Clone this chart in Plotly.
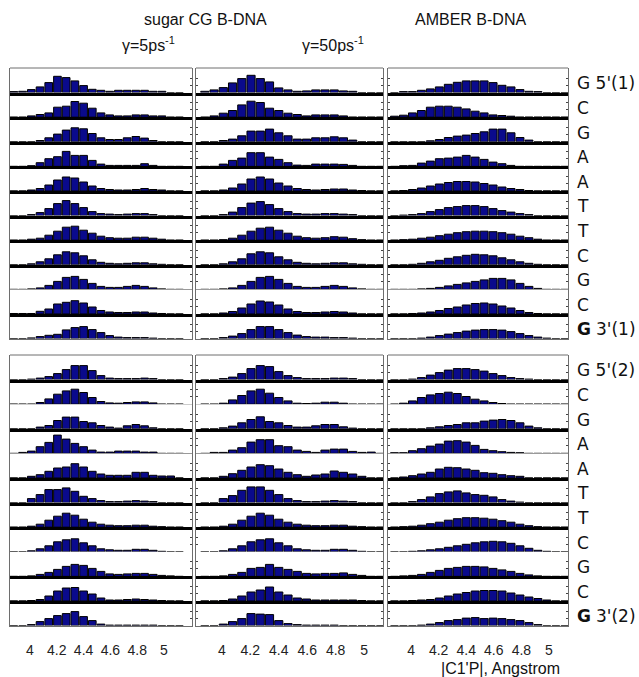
import plotly.graph_objects as go

# bin centres (Angstrom) shared by all histograms
BINS = [3.880, 3.945, 4.010, 4.075, 4.140, 4.205, 4.270, 4.335, 4.400, 4.465,
        4.530, 4.595, 4.660, 4.725, 4.790, 4.855, 4.920, 4.985, 5.050, 5.115]

# row labels: (bold part, normal part)
ROW_LABELS = [("", "G 5'(1)"), ("", "C"), ("", "G"), ("", "A"), ("", "A"), ("", "T"),
              ("", "T"), ("", "C"), ("", "G"), ("", "C"), ("G", "3'(1)"),
              ("", "G 5'(2)"), ("", "C"), ("", "G"), ("", "A"), ("", "A"), ("", "T"),
              ("", "T"), ("", "C"), ("", "G"), ("", "C"), ("G", "3'(2)")]

TICK_VALS = [4.0, 4.2, 4.4, 4.6, 4.8, 5.0]
TICK_TEXT = ["4", "4.2", "4.4", "4.6", "4.8", "5"]

# sugar CG B-DNA, gamma = 5 ps^-1
CG5 = [
    [1, 1.3, 3, 5.7, 10, 16.3, 15, 11.7, 7, 3.3, 2.3, 1.3, 2.3, 2.3, 2.3, 2.3, 1.3, 1.3, 0, 0],
    [0, 0, 1.3, 2.7, 4.3, 10, 11, 15.7, 14, 9, 4.3, 2.3, 1.3, 1.3, 2.3, 2.3, 1.3, 1.3, 0, 0],
    [0, 0, 0, 1.3, 4, 7.7, 11.7, 14, 13, 8.3, 4, 2.3, 2.3, 4, 5.3, 3.7, 1.3, 0, 0, 0],
    [0, 0, 0.7, 3.7, 7.7, 9.7, 15, 11, 11, 6, 2.3, 1, 1, 1, 1, 2.7, 1, 0, 0, 0],
    [0, 0, 1, 2.5, 6, 11, 14, 13, 9, 5, 2.5, 1.5, 1, 1, 1.5, 2.5, 1.5, 1, 0, 0],
    [0, 0, 1, 3, 7, 12, 15, 12, 8, 4, 2, 1.5, 1, 1.5, 2, 2, 1, 0, 0, 0],
    [0, 0, 1, 2, 5, 9, 13, 14, 10, 7, 4, 2.5, 2, 2, 3, 3, 2, 1, 0, 0],
    [0, 0, 1, 3, 6, 10, 13, 12, 9, 5, 2.5, 1.5, 1, 1.5, 2, 2, 1, 0.5, 0, 0],
    [0, 0, 0.5, 1.5, 4, 8, 12, 13, 10, 6, 3, 2, 2, 3, 4, 3, 1.5, 0.5, 0, 0],
    [0.5, 0.5, 0.5, 2.7, 5, 10, 11.7, 13.3, 11, 7, 3.5, 2, 1.5, 1.5, 2, 2, 1, 0.5, 0, 0],
    [0, 0, 0.7, 2, 3.3, 4.3, 8.7, 11, 12, 9, 6, 3, 1.5, 1, 1, 1, 0.5, 0, 0, 0],
    [0, 0, 0.5, 1.5, 3, 6, 10, 14, 14, 9, 4, 1.5, 1, 1, 1, 1.5, 1, 0, 0, 0],
    [0, 0, 0, 1.7, 5.3, 10, 13.3, 15, 11.7, 6.7, 2.7, 1.3, 1, 1.7, 2.3, 2.3, 1.3, 0, 0, 0],
    [0, 0, 0, 1.7, 3.3, 8.3, 11.7, 11.7, 7.3, 6, 3.3, 1.7, 0.7, 3, 4.3, 3, 1, 0, 0, 0],
    [0, 1, 2.3, 6.7, 11, 18.3, 14.3, 10, 6.7, 3.3, 1.3, 1.3, 2.3, 2.3, 2.3, 1.3, 1.3, 0, 0, 0],
    [0, 0, 1.7, 3.3, 6.7, 10, 11, 14.3, 11, 6.7, 4, 2.7, 2.7, 2.7, 5.7, 5.7, 2.7, 2, 2, 0],
    [0, 0, 4, 8, 13, 13, 14.7, 11.3, 6.3, 4, 2, 1, 1, 1.5, 2, 1.5, 1, 0, 0, 0],
    [0, 0, 1, 3, 7, 11, 14, 12, 8, 5, 3, 2, 1.5, 1.5, 2, 2, 1, 0.5, 0, 0],
    [0, 0, 1, 3, 6, 10, 12, 13, 9, 6, 3, 2, 1.5, 1.5, 2.5, 2.5, 1.5, 0.5, 0, 0],
    [0, 0, 0.5, 2, 4, 7, 10, 12, 11, 8, 5, 2.5, 2, 2.5, 3, 3, 2, 1, 0.5, 0],
    [0, 0, 0.5, 1.5, 5, 10, 13, 13.5, 10, 7, 3, 1, 1, 1.5, 2, 1.5, 1, 0.5, 0, 0],
    [0, 0, 1, 4, 7, 10, 12, 14, 9, 5, 1.5, 0.5, 0.5, 0.5, 0.5, 0.5, 0.5, 0, 0, 0],
]

# sugar CG B-DNA, gamma = 50 ps^-1
CG50 = [
    [1.3, 2.7, 5, 9.7, 14, 17.3, 14, 10.7, 4.7, 2.7, 1.3, 1.7, 2.7, 2.7, 2.7, 1.7, 1.3, 0, 0, 0],
    [0, 1.3, 4, 6.7, 12.3, 16, 14.7, 9, 6.7, 4, 2.7, 1.3, 2.3, 2.3, 2.3, 1.3, 0, 0, 0, 0],
    [0, 0, 1.3, 2.7, 6, 10.7, 10.7, 12.7, 9, 6, 2.7, 2.7, 4, 4, 5, 4, 1.7, 0, 0, 0],
    [0, 0, 2.3, 6, 8.3, 13.7, 13.7, 9.3, 7, 3.7, 1.3, 1, 2.3, 2.3, 2.3, 2, 1, 0, 0, 0],
    [0, 0, 1, 3, 7, 12, 14, 12, 8, 5, 2.5, 1.5, 1, 1.5, 2, 2, 1, 0.5, 0, 0],
    [0, 0, 1, 3.5, 8, 12.5, 14, 11, 7, 4, 2, 1.5, 1.5, 2, 2, 1.5, 1, 0, 0, 0],
    [0, 0, 0.5, 2, 5, 9, 12, 13, 10, 7, 4, 2.5, 2, 2.5, 3.5, 3, 1.5, 0.5, 0, 0],
    [0, 0, 1, 3, 6, 11, 13, 12, 8, 5, 2.5, 1.5, 1, 1.5, 2, 2, 1, 0.5, 0, 0],
    [0, 0, 0.5, 1.5, 4, 8, 12, 13, 10, 6, 3, 2, 2, 3, 4, 3, 1.5, 0.5, 0, 0],
    [0, 0, 1, 2.5, 6, 10, 13, 12, 9, 5, 2.5, 1.5, 1.5, 2, 2.5, 2, 1, 0, 0, 0],
    [0, 0, 1, 2.5, 5, 9, 12, 12, 9, 6, 3.5, 2, 1.5, 1.5, 1, 1, 0.5, 0, 0, 0],
    [0, 0, 1, 2.5, 6, 11, 14, 13, 8, 4, 2, 1, 1, 1, 1.5, 1.5, 1, 0, 0, 0],
    [0, 0, 1, 4.3, 8.7, 13.3, 15, 11, 6.7, 3.3, 1, 0.7, 1, 2, 2, 1, 0, 0, 0, 0],
    [0, 0, 1, 2.7, 6, 9.3, 12, 7.3, 6, 3.3, 1.7, 1.7, 3, 4.3, 4.3, 2, 0.7, 0, 0, 0],
    [0, 1, 1, 3.3, 5.7, 11.3, 13.7, 13.7, 7.7, 6.7, 3.3, 2, 1, 3.3, 4.3, 4.3, 2, 1, 1.3, 0],
    [0, 0, 1.7, 4.3, 7.7, 11, 13.3, 12.3, 9, 5.7, 3.3, 1.7, 3, 4, 7, 5.7, 4, 1.7, 0, 0],
    [0, 0, 4, 7, 12.3, 15.7, 15.7, 12.3, 8, 4, 2, 1, 1, 1.5, 2, 1.5, 1, 0, 0, 0],
    [0, 0, 1, 3, 7, 11, 14, 12, 8, 5, 3, 2, 1.5, 1.5, 2, 2, 1, 0.5, 0, 0],
    [0, 0, 1, 3, 6, 10, 12, 13, 9, 6, 3, 2, 1.5, 1.5, 2.5, 2.5, 1.5, 0.5, 0, 0],
    [0, 0, 0.5, 2, 4, 8, 9, 12, 9, 7, 5, 3, 2.5, 3, 3, 3.5, 2, 1, 0, 0],
    [0, 0, 0.5, 2, 5, 9, 11, 14, 9, 6, 3, 2, 1, 1, 1, 1, 1, 0.5, 0, 0],
    [0, 0, 1.5, 4, 7, 12, 11.5, 11, 5, 2, 1, 0.5, 0.5, 0.5, 0.5, 0, 0, 0, 0, 0],
]

# AMBER B-DNA
AMBER = [
    [0, 1, 1, 2.3, 3.7, 5.7, 8.3, 10.3, 11.7, 11.7, 11.7, 10, 7.3, 5.7, 3, 1.3, 1, 0, 0, 0],
    [1, 2, 4.3, 6.7, 10, 11, 11, 10, 8.3, 6, 4.3, 2.3, 1.7, 1, 0, 0, 0, 0, 0, 0],
    [0, 0, 0, 0, 1, 2.3, 4.3, 5.7, 6.7, 8.3, 10, 12.7, 12.7, 9, 4.3, 1.7, 0, 0, 0, 0],
    [0, 0.7, 1, 3.3, 5.3, 7.7, 8.3, 9.3, 11, 9.3, 7, 4.3, 2.7, 1, 0, 0, 0, 0, 0, 0],
    [0, 0.5, 1.5, 3, 5, 7, 8.5, 9.5, 9.5, 9, 7.5, 6, 4, 2.5, 1.5, 0.5, 0, 0, 0, 0],
    [0, 0.5, 1, 2, 4, 6, 8, 9, 10, 10, 9, 7, 5, 3.5, 2, 1, 0, 0, 0, 0],
    [0, 0.5, 1, 2, 3, 4.5, 6, 7.5, 8.5, 9, 9, 8.5, 7.5, 6, 4, 2.5, 1, 0, 0, 0],
    [0, 0, 0.5, 1.5, 3, 4.5, 6.5, 8, 9.5, 10.5, 10, 9, 7, 5, 3, 1.5, 0.5, 0, 0, 0],
    [0, 0, 0, 0.5, 1, 2, 3.5, 5, 6.5, 8, 9.5, 11, 11, 9.5, 6, 3, 1, 0, 0, 0],
    [0, 0, 0.5, 1, 2, 3.5, 5.5, 7, 9, 10.5, 11, 10, 8, 6, 3.5, 1.5, 0.5, 0, 0, 0],
    [0, 0, 0, 0.5, 1.5, 3, 4.5, 6, 7.5, 8.5, 9, 9, 8.5, 7, 5, 3, 1.5, 0.5, 0, 0],
    [0, 0, 0.5, 2, 4.5, 7, 9.5, 11, 11, 10, 8.5, 6, 4, 2, 1, 0.5, 0, 0, 0, 0],
    [0, 1, 3.3, 6.7, 9.3, 10.7, 12, 10.7, 7.7, 5, 3.3, 1.7, 0.7, 0, 0, 0, 0, 0, 0, 0],
    [0, 0, 0, 0, 1, 2, 3.3, 4.3, 6, 6, 7.7, 8.7, 9.3, 8.3, 6, 2.7, 1, 0, 0, 0],
    [0.7, 0.7, 2.7, 4.7, 7.3, 9.3, 12.3, 12.7, 11.3, 8, 4, 2.7, 1.7, 1, 0.7, 0, 0, 0, 0, 0],
    [0, 1, 2.3, 4, 5.7, 9, 10.7, 10.3, 9, 7.7, 5.3, 4.7, 3.3, 2.3, 1.7, 0, 0, 0, 0, 0],
    [0, 0, 1, 3, 5.7, 9, 10.7, 11.7, 9.7, 8, 7.3, 5.7, 3, 1.5, 0.5, 0, 0, 0, 0, 0],
    [0, 0.5, 1, 2, 3.5, 5, 7, 8.5, 9.5, 9.5, 9, 8, 6.5, 5, 3, 1.5, 0.5, 0, 0, 0],
    [0, 0, 0.5, 1, 2, 3, 4.5, 6, 7.5, 9, 10, 10.5, 10, 8.5, 6, 3.5, 1.5, 0.5, 0, 0],
    [0, 0.5, 1, 2, 4, 6, 8, 9, 10, 10, 9.5, 8, 6.5, 5, 3, 1.5, 0.5, 0, 0, 0],
    [0, 0, 0.5, 1, 1.5, 3, 5, 7, 8.5, 10, 10.5, 10.5, 10, 8, 6, 4, 2.5, 1, 0, 0],
    [0, 0, 0, 0.5, 1.5, 3, 5, 6, 7.5, 8, 7, 7.5, 7, 6, 5, 3, 1, 0, 0, 0],
]

COLUMNS = [CG5, CG50, AMBER]

# ---- layout geometry (pixels) ----
W, H = 639, 677
COL_PX = [(10, 192), (196, 383), (388, 568)]
X_RANGES = [(3.851, 5.209), (3.818, 5.133), (3.833, 5.138)]
GROUP_TOP = [68, 355]
ROW_H = 24.6
Y_MAX = 24.6
FRAME = "#6e6e6e"
BAR_FILL = "#0a0a8c"
FONT = "Liberation Sans"
LABEL_FONT = "DejaVu Sans"


def ann(text, px, py, size, xanchor="center", family=FONT, weight="normal"):
    return dict(text=text, x=px / W, y=1 - py / H, xref="paper", yref="paper",
                xanchor=xanchor, yanchor="middle", showarrow=False,
                font=dict(family=family, size=size, color="#111", weight=weight))


fig = go.Figure()
layout = dict(width=W, height=H, margin=dict(l=0, r=0, t=0, b=0),
              paper_bgcolor="white", plot_bgcolor="white",
              showlegend=False, bargap=0.12, shapes=[], annotations=[])

for r in range(22):
    g, i = divmod(r, 11)
    top = GROUP_TOP[g] + i * ROW_H
    bot = top + ROW_H
    last = (i == 10)
    for c in range(3):
        n = r * 3 + c + 1
        x0, x1 = COL_PX[c]
        fig.add_trace(go.Bar(
            x=BINS, y=COLUMNS[c][r], xaxis=f"x{n}", yaxis=f"y{n}",
            marker=dict(color=BAR_FILL, line=dict(color="black", width=1)),
            hoverinfo="skip"))
        layout[f"xaxis{n}"] = dict(
            domain=[x0 / W, x1 / W], range=list(X_RANGES[c]), anchor=f"y{n}",
            showline=True, linecolor=FRAME if last else "black",
            linewidth=1 if last else 2.5,
            showgrid=False, zeroline=False, ticks="", fixedrange=True,
            tickvals=TICK_VALS, ticktext=TICK_TEXT,
            showticklabels=(r == 21), ticklabelstandoff=12,
            tickfont=dict(family=FONT, size=14, color="#222"))
        layout[f"yaxis{n}"] = dict(
            domain=[1 - bot / H, 1 - top / H], range=[0, Y_MAX], anchor=f"x{n}",
            side="right" if c == 0 else "left",
            showline=True, linecolor=FRAME, linewidth=1,
            mirror=True if c == 0 else "ticks",
            ticks="inside", ticklen=2, tickcolor="#444", tickwidth=1,
            tickvals=[7.5, 14.5], showticklabels=False,
            showgrid=False, zeroline=False, fixedrange=True)
    # row label
    bold, normal = ROW_LABELS[r]
    ly = top + ROW_H / 2 + 3
    if bold:
        layout["annotations"].append(ann(bold, 575, ly, 17, "left", LABEL_FONT, "bold"))
        layout["annotations"].append(ann(normal, 594, ly, 17, "left", LABEL_FONT))
    else:
        layout["annotations"].append(ann(normal, 575, ly, 17, "left", LABEL_FONT))

# top frame line of each group
for g in range(2):
    for c in range(3):
        x0, x1 = COL_PX[c]
        layout["shapes"].append(dict(
            type="line", xref="paper", yref="paper",
            x0=x0 / W, x1=x1 / W, y0=1 - GROUP_TOP[g] / H, y1=1 - GROUP_TOP[g] / H,
            line=dict(color=FRAME, width=1)))

layout["annotations"] += [
    ann("sugar CG B-DNA", 205, 20, 16),
    ann("AMBER B-DNA", 470, 20, 16),
    ann("γ=5ps", 167, 46, 16, "right"),
    ann("-1", 163, 40, 11, "left"),
    ann("γ=50ps", 356, 46, 16, "right"),
    ann("-1", 352, 40, 11, "left"),
    ann("|C1'P|, Angstrom", 500, 668, 16),
]

fig.update_layout(**layout)
fig.write_html("out.html")
